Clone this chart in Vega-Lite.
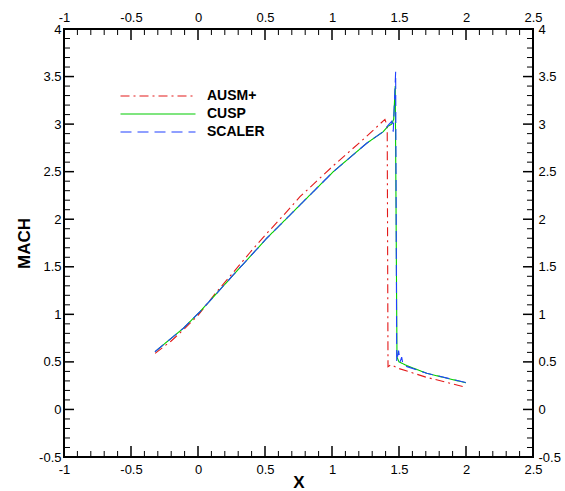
{
  "$schema": "https://vega.github.io/schema/vega-lite/v6.json",
  "width": 469,
  "height": 428,
  "autosize": "none",
  "padding": {"left": 64, "top": 29, "right": 32, "bottom": 34},
  "background": "white",
  "config": {
    "view": {"stroke": "black", "strokeWidth": 2},
    "axis": {"grid": false, "domain": false, "labelFont": "Liberation Sans", "labelFontSize": 13, "labelColor": "black", "titleFont": "Liberation Sans", "titleFontWeight": "bold", "titleColor": "black", "labelFlush": false, "labelOverlap": false}
  },
  "datasets": {
    "d": [
      {"s": "AUSM+", "i": 0, "x": -0.32, "y": 0.59},
      {"s": "AUSM+", "i": 1, "x": -0.2, "y": 0.72},
      {"s": "AUSM+", "i": 2, "x": -0.1, "y": 0.85},
      {"s": "AUSM+", "i": 3, "x": 0.0, "y": 0.99},
      {"s": "AUSM+", "i": 4, "x": 0.13, "y": 1.22},
      {"s": "AUSM+", "i": 5, "x": 0.263, "y": 1.44},
      {"s": "AUSM+", "i": 6, "x": 0.388, "y": 1.65},
      {"s": "AUSM+", "i": 7, "x": 0.513, "y": 1.85},
      {"s": "AUSM+", "i": 8, "x": 0.637, "y": 2.04},
      {"s": "AUSM+", "i": 9, "x": 0.761, "y": 2.237},
      {"s": "AUSM+", "i": 10, "x": 1.01, "y": 2.563},
      {"s": "AUSM+", "i": 11, "x": 1.25, "y": 2.86},
      {"s": "AUSM+", "i": 12, "x": 1.395, "y": 3.05},
      {"s": "AUSM+", "i": 13, "x": 1.412, "y": 2.98},
      {"s": "AUSM+", "i": 14, "x": 1.418, "y": 0.45},
      {"s": "AUSM+", "i": 15, "x": 1.44, "y": 0.47},
      {"s": "AUSM+", "i": 16, "x": 1.5, "y": 0.43},
      {"s": "AUSM+", "i": 17, "x": 1.7, "y": 0.34},
      {"s": "AUSM+", "i": 18, "x": 1.98, "y": 0.24},
      {"s": "CUSP", "i": 0, "x": -0.321, "y": 0.607},
      {"s": "CUSP", "i": 1, "x": -0.11, "y": 0.853},
      {"s": "CUSP", "i": 2, "x": 0.015, "y": 1.028},
      {"s": "CUSP", "i": 3, "x": 0.14, "y": 1.221},
      {"s": "CUSP", "i": 4, "x": 0.263, "y": 1.414},
      {"s": "CUSP", "i": 5, "x": 0.388, "y": 1.606},
      {"s": "CUSP", "i": 6, "x": 0.513, "y": 1.8},
      {"s": "CUSP", "i": 7, "x": 0.637, "y": 1.974},
      {"s": "CUSP", "i": 8, "x": 0.786, "y": 2.185},
      {"s": "CUSP", "i": 9, "x": 1.01, "y": 2.5},
      {"s": "CUSP", "i": 10, "x": 1.259, "y": 2.799},
      {"s": "CUSP", "i": 11, "x": 1.383, "y": 2.921},
      {"s": "CUSP", "i": 12, "x": 1.42, "y": 2.98},
      {"s": "CUSP", "i": 13, "x": 1.446, "y": 3.0},
      {"s": "CUSP", "i": 14, "x": 1.46, "y": 3.05},
      {"s": "CUSP", "i": 15, "x": 1.472, "y": 3.4},
      {"s": "CUSP", "i": 16, "x": 1.485, "y": 0.55},
      {"s": "CUSP", "i": 17, "x": 1.5, "y": 0.5},
      {"s": "CUSP", "i": 18, "x": 1.56, "y": 0.46},
      {"s": "CUSP", "i": 19, "x": 1.707, "y": 0.38},
      {"s": "CUSP", "i": 20, "x": 2.0, "y": 0.28},
      {"s": "SCALER", "i": 0, "x": -0.321, "y": 0.607},
      {"s": "SCALER", "i": 1, "x": -0.11, "y": 0.853},
      {"s": "SCALER", "i": 2, "x": 0.015, "y": 1.028},
      {"s": "SCALER", "i": 3, "x": 0.14, "y": 1.221},
      {"s": "SCALER", "i": 4, "x": 0.263, "y": 1.414},
      {"s": "SCALER", "i": 5, "x": 0.388, "y": 1.606},
      {"s": "SCALER", "i": 6, "x": 0.513, "y": 1.8},
      {"s": "SCALER", "i": 7, "x": 0.637, "y": 1.974},
      {"s": "SCALER", "i": 8, "x": 0.786, "y": 2.185},
      {"s": "SCALER", "i": 9, "x": 1.01, "y": 2.5},
      {"s": "SCALER", "i": 10, "x": 1.259, "y": 2.799},
      {"s": "SCALER", "i": 11, "x": 1.383, "y": 2.921},
      {"s": "SCALER", "i": 12, "x": 1.42, "y": 2.99},
      {"s": "SCALER", "i": 13, "x": 1.446, "y": 3.03},
      {"s": "SCALER", "i": 14, "x": 1.457, "y": 2.92},
      {"s": "SCALER", "i": 15, "x": 1.475, "y": 3.55},
      {"s": "SCALER", "i": 16, "x": 1.483, "y": 0.5},
      {"s": "SCALER", "i": 17, "x": 1.497, "y": 0.62},
      {"s": "SCALER", "i": 18, "x": 1.508, "y": 0.5},
      {"s": "SCALER", "i": 19, "x": 1.52, "y": 0.55},
      {"s": "SCALER", "i": 20, "x": 1.53, "y": 0.47},
      {"s": "SCALER", "i": 21, "x": 1.56, "y": 0.45},
      {"s": "SCALER", "i": 22, "x": 1.707, "y": 0.38},
      {"s": "SCALER", "i": 23, "x": 2.005, "y": 0.281}
    ],
    "tx": [
      {"v": -1, "m": 1}, {"v": -0.9, "m": 0}, {"v": -0.8, "m": 0}, {"v": -0.7, "m": 0}, {"v": -0.6, "m": 0},
      {"v": -0.5, "m": 1}, {"v": -0.4, "m": 0}, {"v": -0.3, "m": 0}, {"v": -0.2, "m": 0}, {"v": -0.1, "m": 0},
      {"v": 0, "m": 1}, {"v": 0.1, "m": 0}, {"v": 0.2, "m": 0}, {"v": 0.3, "m": 0}, {"v": 0.4, "m": 0},
      {"v": 0.5, "m": 1}, {"v": 0.6, "m": 0}, {"v": 0.7, "m": 0}, {"v": 0.8, "m": 0}, {"v": 0.9, "m": 0},
      {"v": 1, "m": 1}, {"v": 1.1, "m": 0}, {"v": 1.2, "m": 0}, {"v": 1.3, "m": 0}, {"v": 1.4, "m": 0},
      {"v": 1.5, "m": 1}, {"v": 1.6, "m": 0}, {"v": 1.7, "m": 0}, {"v": 1.8, "m": 0}, {"v": 1.9, "m": 0},
      {"v": 2, "m": 1}, {"v": 2.1, "m": 0}, {"v": 2.2, "m": 0}, {"v": 2.3, "m": 0}, {"v": 2.4, "m": 0},
      {"v": 2.5, "m": 1}
    ],
    "ty": [
      {"v": -0.5, "m": 1}, {"v": -0.4, "m": 0}, {"v": -0.3, "m": 0}, {"v": -0.2, "m": 0}, {"v": -0.1, "m": 0},
      {"v": 0, "m": 1}, {"v": 0.1, "m": 0}, {"v": 0.2, "m": 0}, {"v": 0.3, "m": 0}, {"v": 0.4, "m": 0},
      {"v": 0.5, "m": 1}, {"v": 0.6, "m": 0}, {"v": 0.7, "m": 0}, {"v": 0.8, "m": 0}, {"v": 0.9, "m": 0},
      {"v": 1, "m": 1}, {"v": 1.1, "m": 0}, {"v": 1.2, "m": 0}, {"v": 1.3, "m": 0}, {"v": 1.4, "m": 0},
      {"v": 1.5, "m": 1}, {"v": 1.6, "m": 0}, {"v": 1.7, "m": 0}, {"v": 1.8, "m": 0}, {"v": 1.9, "m": 0},
      {"v": 2, "m": 1}, {"v": 2.1, "m": 0}, {"v": 2.2, "m": 0}, {"v": 2.3, "m": 0}, {"v": 2.4, "m": 0},
      {"v": 2.5, "m": 1}, {"v": 2.6, "m": 0}, {"v": 2.7, "m": 0}, {"v": 2.8, "m": 0}, {"v": 2.9, "m": 0},
      {"v": 3, "m": 1}, {"v": 3.1, "m": 0}, {"v": 3.2, "m": 0}, {"v": 3.3, "m": 0}, {"v": 3.4, "m": 0},
      {"v": 3.5, "m": 1}, {"v": 3.6, "m": 0}, {"v": 3.7, "m": 0}, {"v": 3.8, "m": 0}, {"v": 3.9, "m": 0},
      {"v": 4, "m": 1}
    ]
  },
  "resolve": {"axis": {"x": "independent", "y": "independent"}},
  "layer": [
    {
      "data": {"name": "tx"},
      "transform": [{"filter": "datum.m == 1"}],
      "mark": {"type": "rule", "color": "black", "strokeWidth": 1.5},
      "encoding": {
        "x": {"field": "v", "type": "quantitative", "scale": {"domain": [-1, 2.5], "nice": false, "zero": false}, "axis": null},
        "y": {"datum": -0.5, "type": "quantitative", "scale": {"domain": [-0.5, 4], "nice": false, "zero": false}, "axis": null},
        "y2": {"datum": -0.3843}
      }
    },
    {
      "data": {"name": "tx"},
      "transform": [{"filter": "datum.m == 1"}],
      "mark": {"type": "rule", "color": "black", "strokeWidth": 1.5},
      "encoding": {
        "x": {"field": "v", "type": "quantitative", "scale": {"domain": [-1, 2.5], "nice": false, "zero": false}, "axis": null},
        "y": {"datum": 4, "type": "quantitative", "scale": {"domain": [-0.5, 4], "nice": false, "zero": false}, "axis": null},
        "y2": {"datum": 3.8843}
      }
    },
    {
      "data": {"name": "tx"},
      "transform": [{"filter": "datum.m == 0"}],
      "mark": {"type": "rule", "color": "black", "strokeWidth": 1},
      "encoding": {
        "x": {"field": "v", "type": "quantitative", "scale": {"domain": [-1, 2.5], "nice": false, "zero": false}, "axis": null},
        "y": {"datum": -0.5, "type": "quantitative", "scale": {"domain": [-0.5, 4], "nice": false, "zero": false}, "axis": null},
        "y2": {"datum": -0.4369}
      }
    },
    {
      "data": {"name": "tx"},
      "transform": [{"filter": "datum.m == 0"}],
      "mark": {"type": "rule", "color": "black", "strokeWidth": 1},
      "encoding": {
        "x": {"field": "v", "type": "quantitative", "scale": {"domain": [-1, 2.5], "nice": false, "zero": false}, "axis": null},
        "y": {"datum": 4, "type": "quantitative", "scale": {"domain": [-0.5, 4], "nice": false, "zero": false}, "axis": null},
        "y2": {"datum": 3.9369}
      }
    },
    {
      "data": {"name": "ty"},
      "transform": [{"filter": "datum.m == 1"}],
      "mark": {"type": "rule", "color": "black", "strokeWidth": 1.5},
      "encoding": {
        "y": {"field": "v", "type": "quantitative", "scale": {"domain": [-0.5, 4], "nice": false, "zero": false}, "axis": null},
        "x": {"datum": -1, "type": "quantitative", "scale": {"domain": [-1, 2.5], "nice": false, "zero": false}, "axis": null},
        "x2": {"datum": -0.9254}
      }
    },
    {
      "data": {"name": "ty"},
      "transform": [{"filter": "datum.m == 1"}],
      "mark": {"type": "rule", "color": "black", "strokeWidth": 1.5},
      "encoding": {
        "y": {"field": "v", "type": "quantitative", "scale": {"domain": [-0.5, 4], "nice": false, "zero": false}, "axis": null},
        "x": {"datum": 2.5, "type": "quantitative", "scale": {"domain": [-1, 2.5], "nice": false, "zero": false}, "axis": null},
        "x2": {"datum": 2.4254}
      }
    },
    {
      "data": {"name": "ty"},
      "transform": [{"filter": "datum.m == 0"}],
      "mark": {"type": "rule", "color": "black", "strokeWidth": 1},
      "encoding": {
        "y": {"field": "v", "type": "quantitative", "scale": {"domain": [-0.5, 4], "nice": false, "zero": false}, "axis": null},
        "x": {"datum": -1, "type": "quantitative", "scale": {"domain": [-1, 2.5], "nice": false, "zero": false}, "axis": null},
        "x2": {"datum": -0.9552}
      }
    },
    {
      "data": {"name": "ty"},
      "transform": [{"filter": "datum.m == 0"}],
      "mark": {"type": "rule", "color": "black", "strokeWidth": 1},
      "encoding": {
        "y": {"field": "v", "type": "quantitative", "scale": {"domain": [-0.5, 4], "nice": false, "zero": false}, "axis": null},
        "x": {"datum": 2.5, "type": "quantitative", "scale": {"domain": [-1, 2.5], "nice": false, "zero": false}, "axis": null},
        "x2": {"datum": 2.4552}
      }
    },
    {
      "data": {"name": "d"},
      "mark": {"type": "line", "strokeWidth": 1.1},
      "encoding": {
        "x": {"field": "x", "type": "quantitative", "scale": {"domain": [-1, 2.5], "nice": false, "zero": false},
          "axis": {"orient": "bottom", "values": [-1, -0.5, 0, 0.5, 1, 1.5, 2, 2.5], "ticks": false, "tickSize": 0, "labelPadding": 6, "labelExpr": "toString(datum.value)", "title": "X", "titleFontSize": 17, "titlePadding": -2}},
        "y": {"field": "y", "type": "quantitative", "scale": {"domain": [-0.5, 4], "nice": false, "zero": false},
          "axis": {"orient": "left", "values": [-0.5, 0, 0.5, 1, 1.5, 2, 2.5, 3, 3.5, 4], "ticks": false, "tickSize": 0, "labelPadding": 3, "labelExpr": "toString(datum.value)", "title": "MACH", "titleFontSize": 17, "titlePadding": 5}},
        "color": {"field": "s", "type": "nominal", "scale": {"domain": ["AUSM+", "CUSP", "SCALER"], "range": ["#e31a1a", "#00cc00", "#2040ff"]},
          "legend": {"orient": "none", "legendX": 84, "legendY": 57, "title": null, "symbolType": "M-4,0H4", "symbolSize": 351.56, "symbolStrokeWidth": 1.2, "labelFont": "Liberation Sans", "labelFontSize": 14, "labelFontWeight": "bold", "labelColor": "black", "labelOffset": 39, "rowPadding": 1}},
        "strokeDash": {"field": "s", "type": "nominal", "scale": {"domain": ["AUSM+", "CUSP", "SCALER"], "range": [[9, 4, 2, 4], [1, 0], [11, 6]]},
          "legend": null},
        "order": {"field": "i", "type": "quantitative"}
      }
    },
    {
      "data": {"name": "d"},
      "mark": {"type": "point", "opacity": 0},
      "encoding": {
        "x": {"field": "x", "type": "quantitative", "scale": {"domain": [-1, 2.5], "nice": false, "zero": false},
          "axis": {"orient": "top", "values": [-1, -0.5, 0, 0.5, 1, 1.5, 2, 2.5], "ticks": false, "tickSize": 0, "labelPadding": 5, "labelExpr": "toString(datum.value)", "title": null}},
        "y": {"field": "y", "type": "quantitative", "scale": {"domain": [-0.5, 4], "nice": false, "zero": false},
          "axis": {"orient": "right", "values": [-0.5, 0, 0.5, 1, 1.5, 2, 2.5, 3, 3.5, 4], "ticks": false, "tickSize": 0, "labelPadding": 5, "labelExpr": "toString(datum.value)", "title": null}}
      }
    }
  ]
}
